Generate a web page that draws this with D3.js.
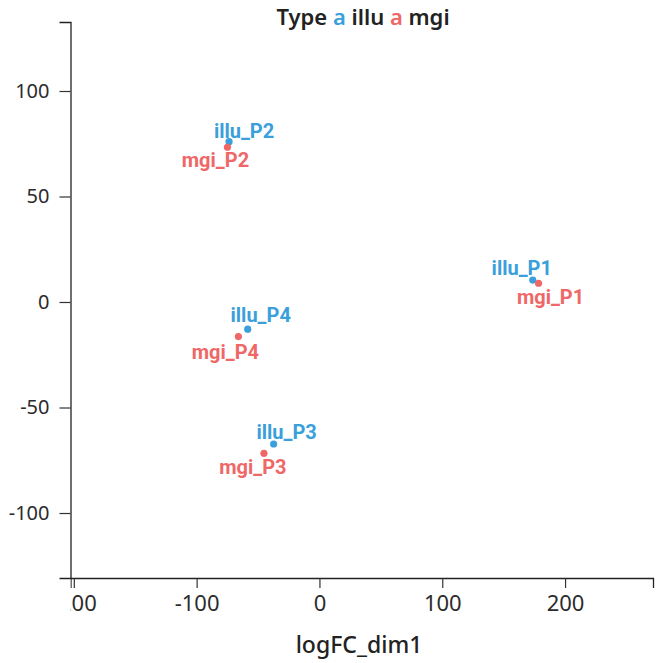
<!DOCTYPE html>
<html>
<head>
<meta charset="utf-8">
<script src="https://cdn.jsdelivr.net/npm/d3@7"></script>
<style>
  body { margin: 0; background: #fff; }
  text { font-family: "Noto Sans", "Open Sans", sans-serif; }
</style>
</head>
<body>
<div id="chart"></div>
<script>
// data
const samples = ["P1", "P2", "P3", "P4"];
const types = ["illu", "mgi"];
const illuX = [173.7, -73.6, -37.3, -58.4];
const illuY = [10.4, 76.0, -67.3, -12.9];
const mgiX = [178.4, -74.9, -45.2, -66.0];
const mgiY = [8.9, 73.3, -71.7, -16.4];
const xTicks = [-200, -100, 0, 100, 200];
const yTicks = [-100, -50, 0, 50, 100];

const colors = { illu: "#3a9fdb", mgi: "#ef6767" };

// label nudges (px) so the labels sit like the repelled ones in the original
const nudge = {
  illu_P1: [-11, -12], mgi_P1: [12, 14],
  illu_P2: [15, -11], mgi_P2: [-12, 13],
  illu_P3: [13, -12], mgi_P3: [-11, 14],
  illu_P4: [13, -14], mgi_P4: [-13, 15]
};

let points = [];
samples.forEach((s, i) => {
  points.push({ type: "illu", name: "illu_" + s, x: illuX[i], y: illuY[i] });
  points.push({ type: "mgi", name: "mgi_" + s, x: mgiX[i], y: mgiY[i] });
});

const W = 656, H = 663;
let margin = { top: 22, right: 3, bottom: 85, left: 70.5 },
  width = W - margin.left - margin.right,
  height = H - margin.top - margin.bottom;

let svg = d3.select("#chart").append("svg")
  .attr("width", W).attr("height", H);

let g = svg.append("g")
  .attr("transform", "translate(" + margin.left + "," + margin.top + ")");

let x = d3.scaleLinear().domain([-202.7, 271.6]).range([0, width]);
let y = d3.scaleLinear().domain([-130.8, 132.7]).range([height, 0]);

// clip so the -200 label is cut like in the reference
svg.append("clipPath").attr("id", "xclip")
  .append("rect").attr("x", 0).attr("y", -2).attr("width", width + 10).attr("height", 100);

// X axis
let xAxis = g.append("g")
  .attr("transform", "translate(0," + height + ")")
  .call(d3.axisBottom(x).tickValues(xTicks).tickSizeOuter(0).tickSize(10).tickPadding(7).tickFormat(d3.format("d")));
xAxis.attr("clip-path", "url(#xclip)");

// Y axis
let yAxis = g.append("g")
  .call(d3.axisLeft(y).tickValues(yTicks).tickSizeOuter(0).tickSize(11).tickPadding(10).tickFormat(d3.format("d")));

[xAxis, yAxis].forEach(a => {
  a.select(".domain").attr("stroke", "#222").attr("stroke-width", 1.3);
  a.selectAll(".tick line").attr("stroke", "#333").attr("stroke-width", 1.2);
  a.selectAll(".tick text")
    .attr("fill", "#2b2b2b")
    .style("font-family", "'Noto Sans', sans-serif");
});
xAxis.selectAll(".tick text").style("font-size", "22px");
yAxis.selectAll(".tick text").style("font-size", "20px");
// minus sign in the reference is a plain hyphen
xAxis.selectAll(".tick text").text(d => String(d).replace("−", "-"));
yAxis.selectAll(".tick text").text(d => String(d).replace("−", "-"));

// points
g.selectAll("circle.pt")
  .data(points)
  .enter()
  .append("circle")
  .attr("class", "pt")
  .attr("cx", d => x(d.x))
  .attr("cy", d => y(d.y))
  .attr("r", 3.6)
  .attr("fill", d => colors[d.type]);

// labels
g.selectAll("text.lbl")
  .data(points)
  .enter()
  .append("text")
  .attr("class", "lbl")
  .attr("x", d => x(d.x) + nudge[d.name][0])
  .attr("y", d => y(d.y) + nudge[d.name][1])
  .attr("dy", "0.35em")
  .attr("text-anchor", "middle")
  .attr("fill", d => colors[d.type])
  .style("font-size", "20px")
  .style("font-weight", "bold")
  .style("font-family", "Roboto, sans-serif")
  .text(d => d.name);

// axis title
svg.append("text")
  .attr("x", 359)
  .attr("y", 653)
  .attr("text-anchor", "middle")
  .attr("fill", "#222")
  .style("font-size", "23px")
  .style("font-weight", "500")
  .text("logFC_dim1");

// legend-as-title: Type a illu a mgi
let legend = svg.append("text")
  .attr("x", 363)
  .attr("y", 25)
  .attr("text-anchor", "middle")
  .attr("fill", "#222")
  .style("font-size", "22px")
  .style("font-weight", "600");
legend.append("tspan").text("Type ");
types.forEach((t, i) => {
  legend.append("tspan").attr("fill", colors[t]).text("a");
  legend.append("tspan").text(" " + t + (i < types.length - 1 ? " " : ""));
});
</script>
</body>
</html>
